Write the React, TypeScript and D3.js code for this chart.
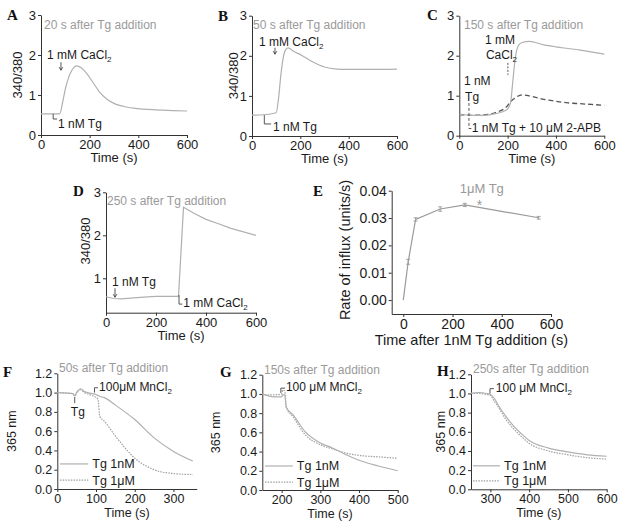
import React, { useEffect, useRef } from "react";
import * as d3 from "d3";

const FONT = "'Liberation Sans', Arial, sans-serif";
const SERIF = "'Liberation Serif', 'Times New Roman', serif";
const AXIS = "#333";
const INK = "#1a1a1a";
const TRACE = "#b0b0b0";
const TITLE = "#9a9a9a";

// A: 20 s after Tg
const timeA = [0, 40, 77, 90, 100, 115, 128, 145, 165, 190, 215, 240, 270, 300, 350, 400, 500, 600];
const ratioA = [0.53, 0.53, 0.53, 0.85, 1.15, 1.46, 1.63, 1.73, 1.68, 1.52, 1.3, 1.08, 0.9, 0.79, 0.7, 0.66, 0.62, 0.6];

// B: 50 s after Tg
const timeB = [0, 50, 100, 110, 120, 130, 140, 150, 170, 200, 250, 300, 350, 400, 500, 600];
const ratioB = [0.52, 0.53, 0.58, 0.95, 1.55, 1.98, 2.16, 2.2, 2.12, 2.03, 1.85, 1.72, 1.67, 1.66, 1.66, 1.67];

// C: 150 s after Tg, with and without 2-APB
const timeC = [0, 50, 100, 150, 195, 212, 222, 232, 244, 260, 290, 350, 400, 450, 500, 550, 600];
const ratioC = [0.53, 0.51, 0.51, 0.55, 0.64, 0.82, 1.4, 1.95, 2.25, 2.33, 2.36, 2.27, 2.22, 2.18, 2.14, 2.09, 2.04];
const timeC2 = [0, 50, 100, 150, 195, 212, 230, 260, 300, 350, 400, 450, 500, 550, 600];
const ratioC2 = [0.53, 0.51, 0.52, 0.58, 0.72, 0.85, 0.94, 1.02, 0.98, 0.91, 0.86, 0.82, 0.8, 0.78, 0.76];

// D: 250 s after Tg
const timeD = [0, 30, 60, 100, 150, 200, 250, 290, 310, 350, 400, 450, 500, 550, 600];
const ratioD = [0.57, 0.53, 0.52, 0.54, 0.56, 0.58, 0.58, 0.58, 2.65, 2.52, 2.37, 2.27, 2.16, 2.08, 2.0];

// E: rate of influx
const delayE = [0, 20, 50, 150, 250, 550];
const rateE = [0, 0.014, 0.0295, 0.0333, 0.0348, 0.0301];
const errE = [0, 0.0009, 0.0006, 0.0008, 0.0006, 0.0005];

// F: Mn quench 50 s after Tg
const timeF = [0, 40, 45, 50, 60, 70, 90, 100, 105, 110, 120, 150, 200, 250, 300, 350];
const nmF = [1.0, 0.99, 0.97, 1.0, 1.04, 1.01, 0.99, 0.98, 0.97, 0.96, 0.95, 0.87, 0.72, 0.53, 0.39, 0.29];
const umF = [1.0, 0.99, 0.95, 1.0, 1.03, 1.0, 0.97, 0.95, 0.93, 0.75, 0.71, 0.55, 0.32, 0.2, 0.16, 0.15];

// G: Mn quench 150 s after Tg
const timeG = [150, 165, 180, 200, 203, 208, 212, 230, 260, 300, 330, 360, 400, 450, 500];
const nmG = [1.0, 0.98, 0.97, 0.97, 0.99, 0.99, 0.86, 0.78, 0.61, 0.49, 0.44, 0.38, 0.31, 0.25, 0.2];
const umG = [1.0, 0.99, 0.99, 1.0, 1.04, 1.03, 0.86, 0.76, 0.58, 0.47, 0.43, 0.39, 0.36, 0.345, 0.33];

// H: Mn quench 250 s after Tg
const timeH = [250, 270, 290, 300, 310, 320, 340, 360, 380, 400, 450, 500, 550, 600];
const nmH = [1.0, 1.01, 1.0, 0.99, 0.95, 0.88, 0.76, 0.66, 0.58, 0.51, 0.43, 0.39, 0.36, 0.345];
const umH = [1.0, 1.0, 0.99, 0.98, 0.92, 0.86, 0.73, 0.63, 0.55, 0.48, 0.4, 0.36, 0.33, 0.315];

const ticks600 = [0, 200, 400, 600];
const ticksRatio = [0, 1, 2, 3];
const ticks365 = [0, 0.2, 0.4, 0.6, 0.8, 1.0, 1.2];

type Series = { t: number[]; v: number[]; dash?: string; color?: string; width?: number; linear?: boolean };
type Note =
  | { k: "text"; t: number; v: number; s: string; sub?: string; fill?: string; anchor?: string; fs?: number }
  | { k: "arrow"; t: number; v0: number; v1: number; head?: boolean; dash?: string }
  | { k: "bracket"; t: number; v0: number; v1: number; t1: number; dash?: string }
  | { k: "legend"; t0: number; t1: number; v: number; dash?: string; s: string };

const panels: any[] = [
  {
    id: "A", xr: [41, 187], yr: [135, 15], xd: [0, 600], yd: [0, 3], xt: ticks600, yt: ticksRatio, yf: "d",
    fs: 13, title: "20 s after Tg addition", titleXY: [44, 29], letterXY: [7, 20],
    yLabel: "340/380", yLabelX: 17, xLabel: "Time (s)", xLabelDy: 27, xLabelFs: 13,
    series: [{ t: timeA, v: ratioA }],
    notes: [
      { k: "text", t: 25, v: 1.9, s: "1 mM CaCl", sub: "2" },
      { k: "arrow", t: 82, v0: 1.82, v1: 1.62, head: true },
      { k: "bracket", t: 50, v0: 0.53, v1: 0.4, t1: 66 },
      { k: "text", t: 70, v: 0.18, s: "1 nM Tg" },
    ],
  },
  {
    id: "B", xr: [252, 397], yr: [136, 15.7], xd: [0, 600], yd: [0, 3], xt: ticks600, yt: ticksRatio, yf: "d",
    fs: 13, title: "50 s after Tg addition", titleXY: [253, 29], letterXY: [218, 20.5],
    yLabel: "340/380", yLabelX: 233, xLabel: "Time (s)", xLabelDy: 27, xLabelFs: 13,
    series: [{ t: timeB, v: ratioB }],
    notes: [
      { k: "text", t: 29, v: 2.24, s: "1 mM CaCl", sub: "2" },
      { k: "arrow", t: 95, v0: 2.2, v1: 2.04, head: true },
      { k: "bracket", t: 51, v0: 0.52, v1: 0.3, t1: 79 },
      { k: "text", t: 87, v: 0.12, s: "1 nM Tg" },
    ],
  },
  {
    id: "C", xr: [459.3, 604.3], yr: [135.7, 15.7], xd: [0, 600], yd: [0, 3], xt: ticks600, yt: ticksRatio, yf: "d",
    fs: 13, title: "150 s after Tg addition", titleXY: [464, 29], letterXY: [427, 20],
    xLabel: "Time (s)", xLabelDy: 27, xLabelFs: 13,
    series: [
      { t: timeC2, v: ratioC2, dash: "5,3", color: "#555", width: 1.3 },
      { t: timeC, v: ratioC },
    ],
    notes: [
      { k: "text", t: 106, v: 2.29, s: "1 mM" },
      { k: "text", t: 110, v: 1.92, s: "CaCl", sub: "2" },
      { k: "arrow", t: 201, v0: 1.82, v1: 1.52, dash: "2,1.5" },
      { k: "text", t: 19, v: 1.28, s: "1 nM" },
      { k: "text", t: 24, v: 0.86, s: "Tg" },
      { k: "bracket", t: 40, v0: 0.82, v1: 0.18, t1: 50, dash: "3,2" },
      { k: "text", t: 52, v: 0.09, s: "1 nM Tg + 10 \u03bcM 2-APB" },
    ],
  },
  {
    id: "D", xr: [106, 256], yr: [312.7, 192.3], xd: [0, 600], yd: [0.2, 3], xt: ticks600, yt: [1, 2, 3], yf: "d",
    fs: 13, title: "250 s after Tg addition", titleXY: [107, 205], letterXY: [73, 196],
    yLabel: "340/380", yLabelX: 85, yLabelY: 241, xLabel: "Time (s)", xLabelDy: 27, xLabelFs: 13,
    series: [{ t: timeD, v: ratioD, linear: true }],
    notes: [
      { k: "text", t: 24, v: 0.82, s: "1 nM Tg" },
      { k: "arrow", t: 36, v0: 0.77, v1: 0.56, head: true },
      { k: "bracket", t: 292, v0: 0.61, v1: 0.4, t1: 305 },
      { k: "text", t: 309, v: 0.34, s: "1 mM CaCl", sub: "2" },
    ],
  },
  {
    id: "E", xr: [391.7, 551], yr: [314, 190.7], xd: [-47, 600], yd: [-0.0051, 0.04], xt: ticks600,
    yt: [0, 0.01, 0.02, 0.03, 0.04], yf: ".2f",
    fs: 14, letterXY: [313, 196],
    yLabel: "Rate of influx (units/s)", yLabelX: 345, yLabelY: 250, yLabelFs: 14.5,
    xLabel: "Time after 1nM Tg addition (s)", xLabelDy: 30.5, xLabelFs: 14.5,
    series: [{ t: delayE, v: rateE, linear: true, color: "#9a9a9a" }],
    errors: { t: delayE, v: rateE, e: errE },
    notes: [
      { k: "text", t: 319, v: 0.0392, s: "1\u03bcM Tg", fill: TITLE, anchor: "middle", fs: 13 },
      { k: "text", t: 310, v: 0.0331, s: "*", fill: TITLE, anchor: "middle", fs: 14 },
    ],
  },
  {
    id: "F", xr: [57.3, 196.7], yr: [489, 373.3], xd: [0, 360], yd: [0, 1.2], xt: [0, 100, 200, 300], yt: ticks365, yf: ".1f",
    fs: 12.5, title: "50s after Tg addition", titleXY: [59, 372], letterXY: [3, 377],
    yLabel: "365 nm", yLabelX: 12, xLabel: "Time (s)", xLabelDy: 27.5,
    series: [
      { t: timeF, v: umF, dash: "1.5,1.2", color: "#a0a0a0" },
      { t: timeF, v: nmF },
    ],
    notes: [
      { k: "text", t: 35, v: 0.76, s: "Tg" },
      { k: "arrow", t: 45, v0: 0.95, v1: 0.89 },
      { k: "bracket", t: 96, v0: 1.0, v1: 1.05, t1: 105 },
      { k: "text", t: 108, v: 1.02, s: "100\u03bcM MnCl", sub: "2" },
      { k: "legend", t0: 7, t1: 80, v: 0.26, s: "Tg 1nM" },
      { k: "legend", t0: 7, t1: 80, v: 0.093, s: "Tg 1\u03bcM", dash: "1.5,1.2" },
    ],
  },
  {
    id: "G", xr: [262.3, 397.7], yr: [490, 374.7], xd: [150, 500], yd: [0, 1.2], xt: [200, 300, 400, 500], yt: ticks365, yf: ".1f",
    fs: 12.5, title: "150s after Tg addition", titleXY: [264, 374], letterXY: [220, 377],
    yLabel: "365 nm", yLabelX: 216, xLabel: "Time (s)", xLabelDy: 27.5,
    series: [
      { t: timeG, v: umG, dash: "1.5,1.2", color: "#a0a0a0" },
      { t: timeG, v: nmG },
    ],
    notes: [
      { k: "bracket", t: 198, v0: 1.01, v1: 1.06, t1: 209 },
      { k: "text", t: 211, v: 1.03, s: "100 \u03bcM MnCl", sub: "2" },
      { k: "legend", t0: 157, t1: 229, v: 0.25, s: "Tg 1nM" },
      { k: "legend", t0: 157, t1: 229, v: 0.083, s: "Tg 1\u03bcM", dash: "1.5,1.2" },
    ],
  },
  {
    id: "H", xr: [471, 606.7], yr: [489.3, 374.3], xd: [250, 600], yd: [0, 1.2], xt: [300, 400, 500, 600], yt: ticks365, yf: ".1f",
    fs: 12.5, title: "250s after Tg addition", titleXY: [473, 373], letterXY: [437, 376],
    yLabel: "365 nm", yLabelX: 441, xLabel: "Time (s)", xLabelDy: 27.5,
    series: [
      { t: timeH, v: umH, dash: "1.5,1.2", color: "#a0a0a0" },
      { t: timeH, v: nmH },
    ],
    notes: [
      { k: "bracket", t: 299, v0: 1.0, v1: 1.05, t1: 309 },
      { k: "text", t: 314, v: 1.02, s: "100 \u03bcM MnCl", sub: "2" },
      { k: "legend", t0: 255, t1: 325, v: 0.245, s: "Tg 1nM" },
      { k: "legend", t0: 255, t1: 325, v: 0.087, s: "Tg 1\u03bcM", dash: "1.5,1.2" },
    ],
  },
];

function drawPanel(svg: any, p: any) {
  const x = d3.scaleLinear().domain(p.xd).range(p.xr);
  const y = d3.scaleLinear().domain(p.yd).range(p.yr);
  const g = svg.append("g");

  // axes
  const ax = g
    .append("g")
    .attr("transform", `translate(0,${p.yr[0]})`)
    .call(d3.axisBottom(x).tickValues(p.xt).tickSize(3).tickSizeOuter(0).tickPadding(2));
  const ay = g
    .append("g")
    .attr("transform", `translate(${p.xr[0]},0)`)
    .call(
      d3.axisLeft(y).tickValues(p.yt).tickFormat(d3.format(p.yf)).tickSize(3).tickSizeOuter(0).tickPadding(2)
    );
  [ax, ay].forEach((a) => {
    a.attr("font-family", FONT).attr("font-size", p.fs);
    a.selectAll("path,line").attr("stroke", AXIS);
    a.selectAll("text").attr("fill", INK);
  });

  // traces
  p.series.forEach((s: Series) => {
    const line = d3
      .line<number>()
      .x((_, i) => x(s.t[i]))
      .y((d) => y(d))
      .curve(s.linear ? d3.curveLinear : d3.curveMonotoneX);
    g.append("path")
      .datum(s.v)
      .attr("fill", "none")
      .attr("stroke", s.color || TRACE)
      .attr("stroke-width", s.width || 1.2)
      .attr("stroke-dasharray", s.dash || null)
      .attr("d", line);
  });

  // error bars
  if (p.errors) {
    const { t, v, e } = p.errors;
    t.forEach((tt: number, i: number) => {
      if (!e[i]) return;
      const cx = x(tt);
      g.append("path")
        .attr("fill", "none")
        .attr("stroke", "#9a9a9a")
        .attr("stroke-width", 0.9)
        .attr(
          "d",
          `M${cx},${y(v[i] - e[i])}V${y(v[i] + e[i])}M${cx - 2},${y(v[i] - e[i])}h4M${cx - 2},${y(v[i] + e[i])}h4`
        );
    });
  }

  // annotations
  p.notes.forEach((n: Note) => {
    if (n.k === "text") {
      const tx = g
        .append("text")
        .attr("x", x(n.t))
        .attr("y", y(n.v))
        .attr("font-family", FONT)
        .attr("font-size", n.fs || 12)
        .attr("fill", n.fill || INK)
        .attr("text-anchor", n.anchor || "start")
        .text(n.s);
      if (n.sub) tx.append("tspan").attr("font-size", 8).attr("dy", 3).text(n.sub);
    } else if (n.k === "arrow") {
      const cx = x(n.t);
      g.append("line")
        .attr("x1", cx).attr("x2", cx)
        .attr("y1", y(n.v0)).attr("y2", y(n.v1))
        .attr("stroke", "#444").attr("stroke-width", 0.9)
        .attr("stroke-dasharray", n.dash || null);
      if (n.head) {
        const yy = y(n.v1);
        g.append("path").attr("d", `M${cx - 1.8},${yy - 3}L${cx},${yy}L${cx + 1.8},${yy - 3}`)
          .attr("fill", "none").attr("stroke", "#444").attr("stroke-width", 0.9);
      }
    } else if (n.k === "bracket") {
      g.append("path")
        .attr("d", `M${x(n.t)},${y(n.v0)}V${y(n.v1)}H${x(n.t1)}`)
        .attr("fill", "none").attr("stroke", "#444").attr("stroke-width", 0.9)
        .attr("stroke-dasharray", n.dash || null);
    } else if (n.k === "legend") {
      g.append("line")
        .attr("x1", x(n.t0)).attr("x2", x(n.t1))
        .attr("y1", y(n.v)).attr("y2", y(n.v))
        .attr("stroke", n.dash ? "#a0a0a0" : TRACE).attr("stroke-width", 1.2)
        .attr("stroke-dasharray", n.dash || null);
      g.append("text")
        .attr("x", x(n.t1) + 4)
        .attr("y", y(n.v) + 4.5)
        .attr("font-family", FONT).attr("font-size", 12.5).attr("fill", INK)
        .text(n.s);
    }
  });

  // titles and labels
  if (p.title) {
    g.append("text").attr("x", p.titleXY[0]).attr("y", p.titleXY[1])
      .attr("font-family", FONT).attr("font-size", 12).attr("fill", TITLE).text(p.title);
  }
  g.append("text").attr("x", p.letterXY[0]).attr("y", p.letterXY[1])
    .attr("font-family", SERIF).attr("font-weight", "bold").attr("font-size", 15).attr("fill", "#111").text(p.id);
  if (p.yLabel) {
    const cy = p.yLabelY ?? (p.yr[0] + p.yr[1]) / 2;
    g.append("text")
      .attr("transform", `translate(${p.yLabelX},${cy}) rotate(-90)`)
      .attr("text-anchor", "middle").attr("dy", "0.35em")
      .attr("font-family", FONT).attr("font-size", p.yLabelFs || p.fs).attr("fill", INK)
      .text(p.yLabel);
  }
  g.append("text")
    .attr("x", (p.xr[0] + p.xr[1]) / 2)
    .attr("y", p.yr[0] + p.xLabelDy)
    .attr("text-anchor", "middle")
    .attr("font-family", FONT).attr("font-size", p.xLabelFs || p.fs).attr("fill", INK)
    .text(p.xLabel);
}

export default function App() {
  const svgRef = useRef<SVGSVGElement>(null);

  useEffect(() => {
    const svg = d3.select(svgRef.current);
    svg.selectAll("*").remove();
    panels.forEach((p) => drawPanel(svg, p));
  }, []);

  return (
    <svg
      ref={svgRef}
      width={624}
      height={526}
      style={{ position: "absolute", left: 0, top: 0, background: "#fff" }}
    />
  );
}
